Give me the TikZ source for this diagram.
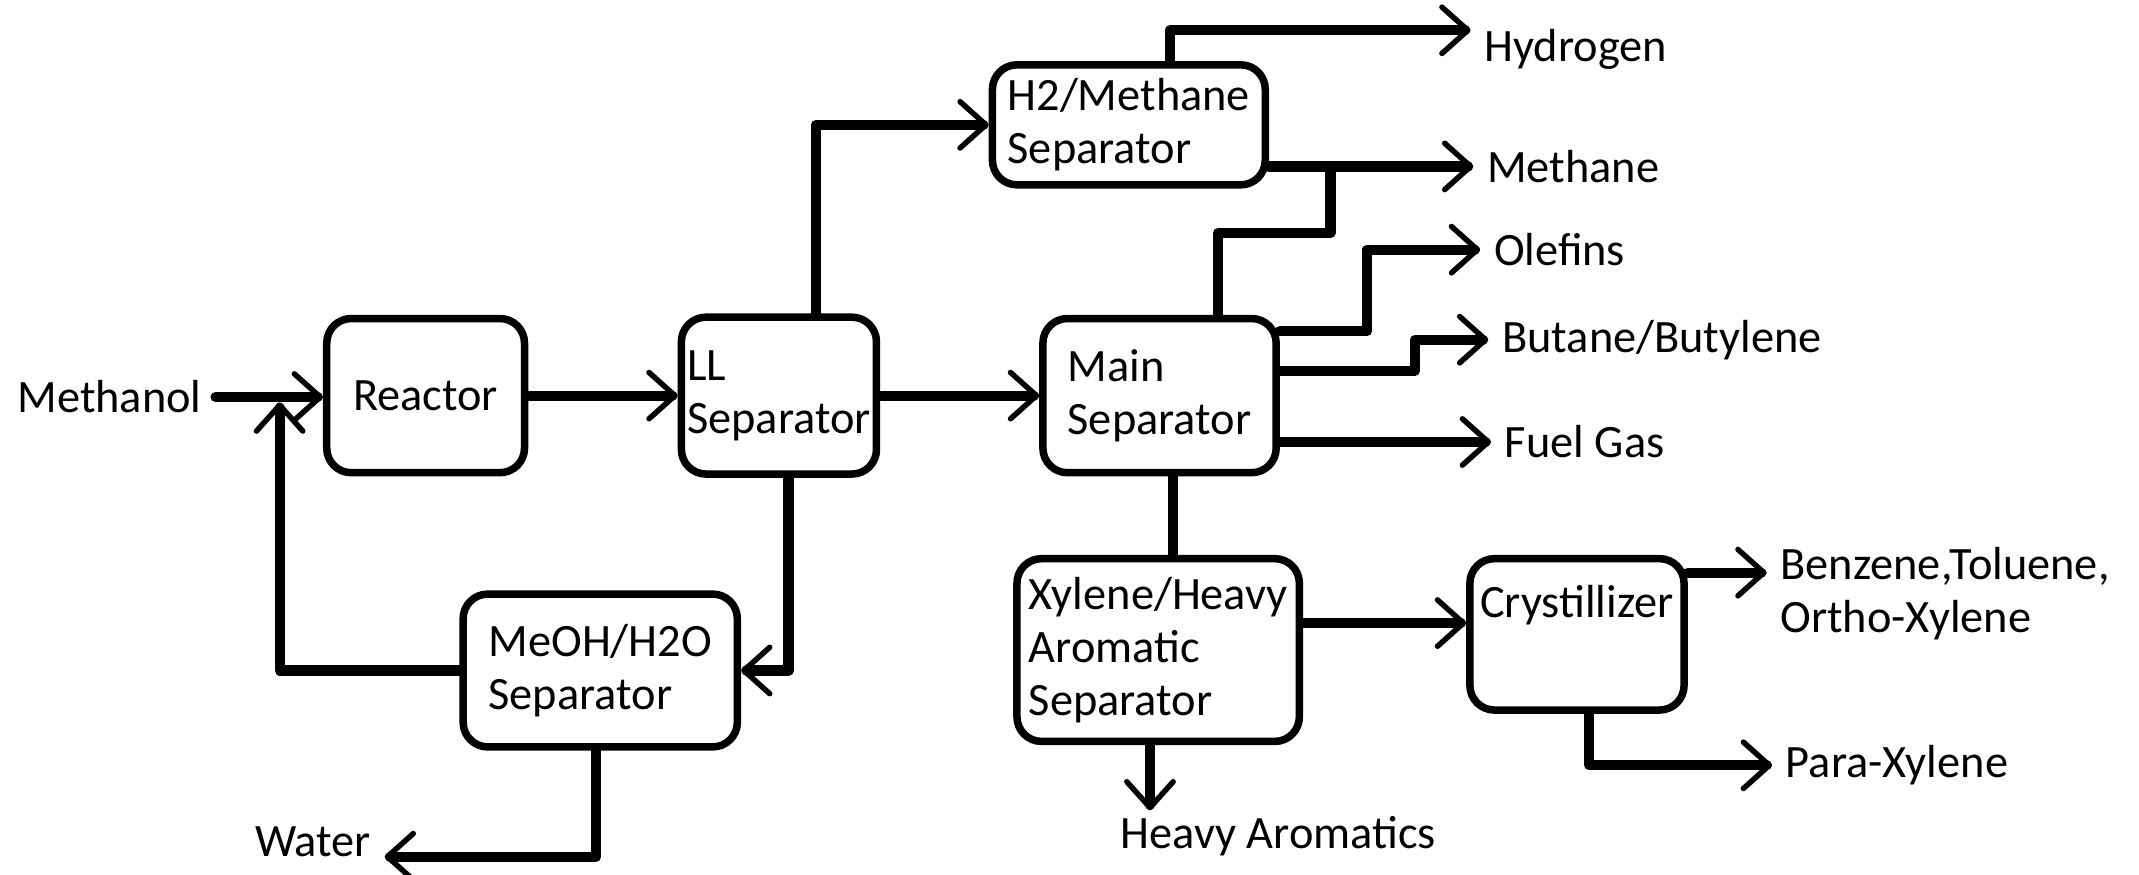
\documentclass[tikz,border=0pt]{standalone}
\usepackage{fontspec}
\setmainfont{Carlito}
\usetikzlibrary{arrows.meta}

\begin{document}
\begin{tikzpicture}[x=1pt, y=-1pt, line cap=round, line join=round,
  unit/.style={draw, line width=5.5pt, rounded corners=18pt, inner sep=0pt, align=left,
    font=\fontsize{34}{39}\selectfont},
  lbl/.style={inner ysep=4pt, inner xsep=10pt, align=left, font=\fontsize{34}{39}\selectfont},
  flow/.style={line width=7.5pt, -{Straight Barb[length=19pt,width=34pt,line width=4pt,round]}},
  pipe/.style={line width=7.5pt}]

  %% ════ 设备框 ════
  \node[unit, minimum width=145pt, minimum height=113pt] (reactor) at (312,290) {Reactor};
  \node[unit, minimum width=143pt, minimum height=115pt] (ll) at (571,290) {LL\\Separator};
  \node[unit, minimum width=200pt, minimum height=88pt] (h2meth) at (827.5,91.5) {H2/Methane\\Separator};
  \node[unit, minimum width=171pt, minimum height=113pt] (main) at (850,290) {Main\\Separator};
  \node[unit, minimum width=201pt, minimum height=112pt] (meoh) at (440,491.5) {MeOH/H2O\\Separator};
  \node[unit, minimum width=207pt, minimum height=134pt] (xylene) at (849,476.5) {Xylene/Heavy\\Aromatic\\Separator};
  \node[unit, minimum width=157pt, minimum height=111pt,
    label={[font=\fontsize{34}{39}\selectfont, inner sep=0pt, anchor=north, yshift=-22pt]north:Crystillizer}]
    (cryst) at (1156,465) {};

  %% ════ 进出物料 ════
  \node[lbl, anchor=east] (methanol) at (158,291) {Methanol};
  \node[lbl, anchor=base east] (water) at (282,628) {Water};
  \node[lbl, anchor=base west] (hydro) at (1078,45) {Hydrogen};
  \node[lbl, anchor=west] (meth) at (1080,122) {Methane};
  \node[lbl, anchor=west] (olef) at (1085,183) {Olefins};
  \node[lbl, anchor=west] (butane) at (1091,249) {Butane/Butylene};
  \node[lbl, anchor=west] (fuel) at (1093,324) {Fuel Gas};
  \node[lbl, anchor=north] (heavy) at (937,594) {Heavy Aromatics};
  \node[lbl, anchor=north west] (benz) at (1295,397) {Benzene,Toluene,\\Ortho-Xylene};
  \node[lbl, anchor=west] (para) at (1299,561) {Para-Xylene};

  %% ════ 主线 ════
  \draw[flow] (methanol.east) -- (methanol.east -| reactor.west);
  \draw[flow] (reactor.east) -- (reactor.east -| ll.west);
  \draw[flow] (ll.east) -- (ll.east -| main.west);
  \draw[flow] ([xshift=27pt]ll.north) |- (h2meth.west);
  \draw[flow] ([xshift=7pt]ll.south) |- (meoh.east);
  \draw[flow] (meoh.west) -| ([xshift=47pt,yshift=-4pt]methanol.east);   % 循环甲醇
  \draw[flow] ([xshift=-3pt]meoh.south) |- (water.base east);

  %% ════ 分离产品 ════
  \draw[flow] ([xshift=30pt]h2meth.north) |- ([yshift=-5pt]hydro.north west);
  \draw[flow] (meth.west -| h2meth.east) -- (meth.west);
  \draw[pipe] ([xshift=43pt]main.north) -- ++(0,-60) -| ([xshift=45pt]h2meth.east |- meth.west);
  \draw[flow] ([yshift=-12pt]main.north east) -- ++(64,0) |- (olef.west);
  \draw[flow] ([yshift=-41pt]main.north east) -- ++(99,0) |- (butane.west);
  \draw[flow] (fuel.west -| main.east) -- (fuel.west);
  \draw[pipe] ([xshift=10pt]main.south) -- ([xshift=10pt]main.south |- xylene.north);
  \draw[flow] ([xshift=-6pt]xylene.south) -- ([xshift=-6pt]xylene.south |- heavy.north);
  \draw[flow] ([yshift=-50pt]xylene.north east) -- ([yshift=-50pt]xylene.north east -| cryst.west);
  \draw[flow] ([yshift=-13pt]cryst.north east) -- ([yshift=-13pt]cryst.north east -| benz.west);
  \draw[flow] ([xshift=9pt]cryst.south) |- (para.west);

  % 固定画布
  \pgfresetboundingbox
  \path[use as bounding box] (0,0) rectangle (1568,641);
\end{tikzpicture}
\end{document}
